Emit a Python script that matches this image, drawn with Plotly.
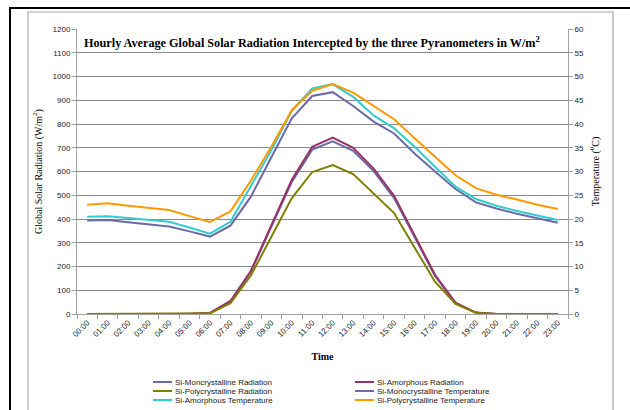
import plotly.graph_objects as go

hours = [f"{h:02d}:00" for h in range(24)]

mono_rad = [0, 0, 0, 0, 0, 0, 4, 50, 178, 366, 556, 692, 727, 687, 602, 488, 322, 160, 45, 5, 0, 0, 0, 0]
amor_rad = [0, 0, 0, 0, 0, 0, 5, 55, 182, 372, 565, 704, 743, 700, 612, 498, 331, 165, 48, 6, 0, 0, 0, 0]
poly_rad = [0, 0, 0, 0, 0, 0, 3, 45, 162, 325, 488, 598, 627, 589, 509, 425, 280, 136, 42, 5, 0, 0, 0, 0]
mono_temp = [19.7, 19.8, 19.3, 18.9, 18.4, 17.4, 16.3, 18.6, 24.7, 33.0, 41.2, 45.9, 46.7, 43.8, 40.5,
             38.0, 33.8, 30.0, 26.3, 23.5, 22.2, 21.1, 20.2, 19.2]
amor_temp = [20.5, 20.6, 20.2, 19.8, 19.4, 18.2, 16.9, 19.4, 27.1, 34.5, 42.8, 47.5, 48.4, 45.7, 41.8,
             39.1, 35.2, 31.0, 26.8, 24.2, 22.8, 21.7, 20.7, 19.8]
poly_temp = [23.0, 23.3, 22.8, 22.4, 21.9, 20.6, 19.4, 21.6, 28.1, 35.2, 42.9, 47.0, 48.4, 46.6, 43.8,
             41.0, 37.0, 33.0, 29.2, 26.5, 25.1, 24.1, 23.0, 22.1]

names = ["Si-Moncrystalline Radiation", "Si-Amorphous Radiation", "Si-Polycrystalline Radiation",
         "Si-Monocrystalline Temperature", "Si-Amorphous Temperature", "Si-Polycrystalline Temperature"]
colors = ["#6a6aa6", "#993366", "#808000", "#6a6aa6", "#33cccc", "#ff9900"]
series = [mono_rad, amor_rad, poly_rad, mono_temp, amor_temp, poly_temp]
axes = ["y", "y", "y", "y2", "y2", "y2"]

W, H = 630, 410
L, R, T, B = 77, 62, 29, 96
PW, PH = W - L - R, H - T - B


def px(x):
    return (x - L) / PW


def py(y):
    return (H - B - y) / PH


fig = go.Figure()
for name, col, vals, ax in zip(names, colors, series, axes):
    fig.add_trace(go.Scatter(x=hours, y=vals, name=name, mode="lines", yaxis=ax,
                             line=dict(color=col, width=2), showlegend=False))

sans = "Liberation Sans, Arial, sans-serif"
serif = "Liberation Serif, Times New Roman, serif"

fig.update_layout(
    width=W, height=H,
    margin=dict(l=L, r=R, t=T, b=B),
    paper_bgcolor="white", plot_bgcolor="white",
    showlegend=False,
    xaxis=dict(type="category", range=[-0.5, 23.5], tickson="boundaries", ticks="outside",
               ticklen=4, tickcolor="#a0a0a0", showline=True, linecolor="#a0a0a0", linewidth=1,
               showgrid=False, tickangle=-45, tickfont=dict(family=sans, size=8, color="#222"),
               title=dict(text="<b>Time</b>", font=dict(family=serif, size=10, color="black"),
                          standoff=14)),
    yaxis=dict(range=[0, 1200], dtick=100, ticks="outside", ticklen=4, tickcolor="#a0a0a0",
               showline=True, linecolor="#a0a0a0", linewidth=1, showgrid=True,
               gridcolor="#8a8a8a", gridwidth=1, zeroline=False,
               tickfont=dict(family=sans, size=8, color="#222"),
               title=dict(text="Global Solar Radiation (W/m<sup>2</sup>)",
                          font=dict(family=serif, size=10, color="black"), standoff=8)),
    yaxis2=dict(range=[0, 60], dtick=5, overlaying="y", side="right", ticks="outside",
                ticklen=4, tickcolor="#a0a0a0", showline=True, linecolor="#a0a0a0", linewidth=1,
                showgrid=False, zeroline=False, tickfont=dict(family=sans, size=8, color="#222"),
                title=dict(text="Temperature (<sup>0</sup>C)",
                           font=dict(family=serif, size=10, color="black"), standoff=8)),
)

shapes = []
annots = []
# outer frame
shapes.append(dict(type="line", xref="paper", yref="paper", x0=px(9), x1=px(630), y0=py(8), y1=py(8),
                   line=dict(color="black", width=2)))
shapes.append(dict(type="line", xref="paper", yref="paper", x0=px(10), x1=px(10), y0=py(7), y1=py(412),
                   line=dict(color="black", width=2)))
shapes.append(dict(type="rect", xref="paper", yref="paper", x0=px(28), x1=px(613), y0=py(12), y1=py(420),
                   line=dict(color="#a8a8a8", width=1.2), layer="below"))

# title
annots.append(dict(xref="paper", yref="paper", x=px(311.5), y=py(42), xanchor="center", yanchor="middle",
                   showarrow=False,
                   text="<b>Hourly Average Global Solar Radiation Intercepted by the three Pyranometers in W/m<sup>2</sup></b>",
                   font=dict(family=serif, size=12.2, color="black")))

# custom legend (two columns, row-wise order)
col_x = [153, 355]
row_y = [382, 391, 400]
for i, (name, col) in enumerate(zip(names, colors)):
    r, c = divmod(i, 2)
    x0 = col_x[c]
    y0 = row_y[r]
    shapes.append(dict(type="line", xref="paper", yref="paper", x0=px(x0), x1=px(x0 + 19),
                       y0=py(y0), y1=py(y0), line=dict(color=col, width=2)))
    annots.append(dict(xref="paper", yref="paper", x=px(x0 + 20), y=py(y0), xanchor="left",
                       yanchor="middle", showarrow=False, text=name,
                       font=dict(family=sans, size=8, color="#222")))

fig.update_layout(shapes=shapes, annotations=annots)
fig.write_html("out.html", config={"displayModeBar": False},
               post_script="document.body.style.margin='0';document.body.style.overflow='hidden';")
